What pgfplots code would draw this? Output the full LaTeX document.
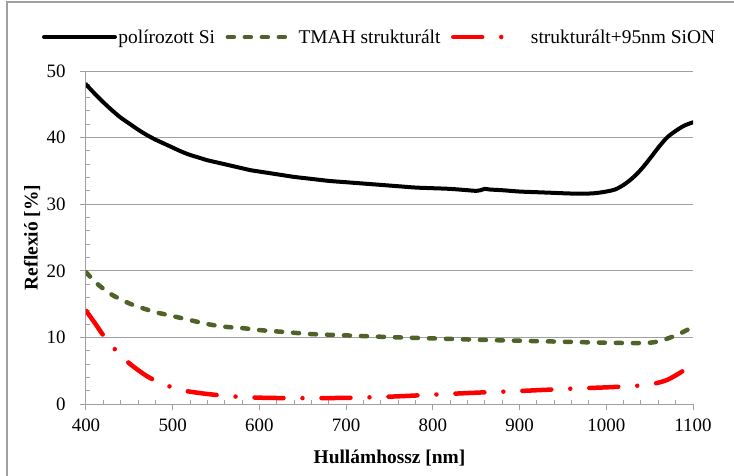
\documentclass[border=0pt]{standalone}
\usepackage{fontspec}
\setmainfont{Liberation Serif}
\usepackage{pgfplots}
\pgfplotsset{compat=1.18}
\definecolor{tmah}{RGB}{79,98,40}
\definecolor{axgray}{RGB}{160,160,160}
\pgfplotsset{
  legA/.style={legend image code/.code={\draw[##1] (0bp,0bp) -- (71bp,0bp);}},
  legB/.style={legend image code/.code={\draw[##1] (0bp,0bp) -- (67bp,0bp);}},
  legC/.style={legend image code/.code={\draw[##1] (0bp,0bp) -- (50bp,0bp); \path (74bp,0bp);}},
}
\begin{document}
\begin{tikzpicture}
\useasboundingbox (-86bp,-72bp) rectangle (648bp,404bp);
\draw[axgray, line width=1.2bp] (-79bp,-73bp) -- (-79bp,402bp) -- (649bp,402bp);
\begin{axis}[
  at={(0bp,0bp)}, anchor=south west,
  width=607bp, height=333bp, scale only axis,
  xmin=400, xmax=1100, ymin=0, ymax=50,
  xtick={400,500,...,1100}, ytick={0,10,...,50},
  minor x tick num=4, minor y tick num=4,
  axis x line*=bottom, axis y line*=left,
  axis line style={axgray, line width=1bp, -},
  ymajorgrids, major grid style={axgray, line width=1bp},
  tick style={axgray, line width=1bp},
  tick align=outside, major tick length=6bp, minor tick length=-4bp,
  ticklabel style={font=\fontsize{19}{19}\selectfont, black},
  /pgf/number format/assume math mode=true,
  /pgf/number format/1000 sep={},
  yticklabel style={anchor=east, xshift=-11bp},
  xticklabel style={anchor=north, yshift=-5bp},
  xlabel={Hullámhossz [nm]}, ylabel={Reflexió [\%]},
  label style={font=\bfseries\fontsize{19.5}{20}\selectfont},
  xlabel style={at={(axis description cs:0.5,-0.162)}, anchor=center},
  ylabel style={at={(axis description cs:-0.089,0.5)}, anchor=center},
  legend style={at={(axis description cs:-0.0725,1.102)}, anchor=west,
    draw=none, fill=none, inner sep=0pt, outer sep=0pt,
    font=\fontsize{19.5}{19.5}\selectfont, legend columns=-1,
    nodes={inner sep=1.5bp},
    /tikz/every even column/.append style={column sep=9bp}},
]
\addplot[black, line width=4bp, line cap=round, smooth, legA] coordinates {
(400,48.0) (410,46.6) (420,45.3) (430,44.1) (440,43.0) (450,42.1) (460,41.2)
(470,40.4) (480,39.7) (490,39.1) (500,38.5) (510,37.9) (520,37.4) (530,37.0)
(540,36.6) (550,36.3) (560,36.0) (570,35.7) (580,35.4) (590,35.1) (600,34.9)
(620,34.5) (640,34.1) (660,33.8) (680,33.5) (700,33.3) (720,33.1) (740,32.9)
(760,32.7) (780,32.5) (800,32.4) (820,32.3) (840,32.1) (850,32.0) (855,32.1)
(860,32.3) (866,32.2) (880,32.1) (900,31.9) (920,31.8) (940,31.7) (960,31.6)
(980,31.6) (990,31.7) (1000,31.9) (1010,32.2) (1020,32.9) (1030,33.9)
(1040,35.2) (1050,36.8) (1060,38.5) (1070,40.0) (1080,41.0) (1090,41.8) (1100,42.3)
};
\addlegendentry{polírozott Si}
\addplot[tmah, line width=4.5bp, line cap=round, dash pattern=on 6bp off 11bp, smooth, legB] coordinates {
(400,19.8) (410,18.4) (420,17.3) (430,16.4) (440,15.7) (450,15.1) (460,14.6)
(480,13.8) (500,13.2) (520,12.6) (540,12.0) (560,11.6) (580,11.4) (600,11.1)
(630,10.8) (660,10.5) (700,10.3) (750,10.05) (800,9.85) (850,9.65) (900,9.5)
(950,9.35) (1000,9.2) (1030,9.15) (1050,9.2) (1060,9.4) (1070,9.8) (1080,10.3)
(1090,10.9) (1100,11.6)
};
\addlegendentry{TMAH strukturált}
\addplot[red, line width=4.5bp, line cap=round, dash pattern=on 29bp off 19bp on 0bp off 19bp, smooth, legC] coordinates {
(400,14.0) (410,12.2) (420,10.3) (430,8.7) (440,7.3) (450,6.1) (460,5.1)
(470,4.2) (480,3.5) (490,2.9) (500,2.5) (510,2.1) (520,1.85) (540,1.5)
(560,1.25) (580,1.05) (600,0.95) (620,0.9) (650,0.88) (700,0.92) (750,1.1)
(800,1.4) (850,1.7) (900,1.95) (950,2.25) (1000,2.5) (1030,2.7) (1050,2.9)
(1060,3.2) (1070,3.6) (1080,4.3) (1090,5.1) (1100,6.1)
};
\addlegendentry{strukturált+95nm SiON}
\end{axis}
\end{tikzpicture}
\end{document}
